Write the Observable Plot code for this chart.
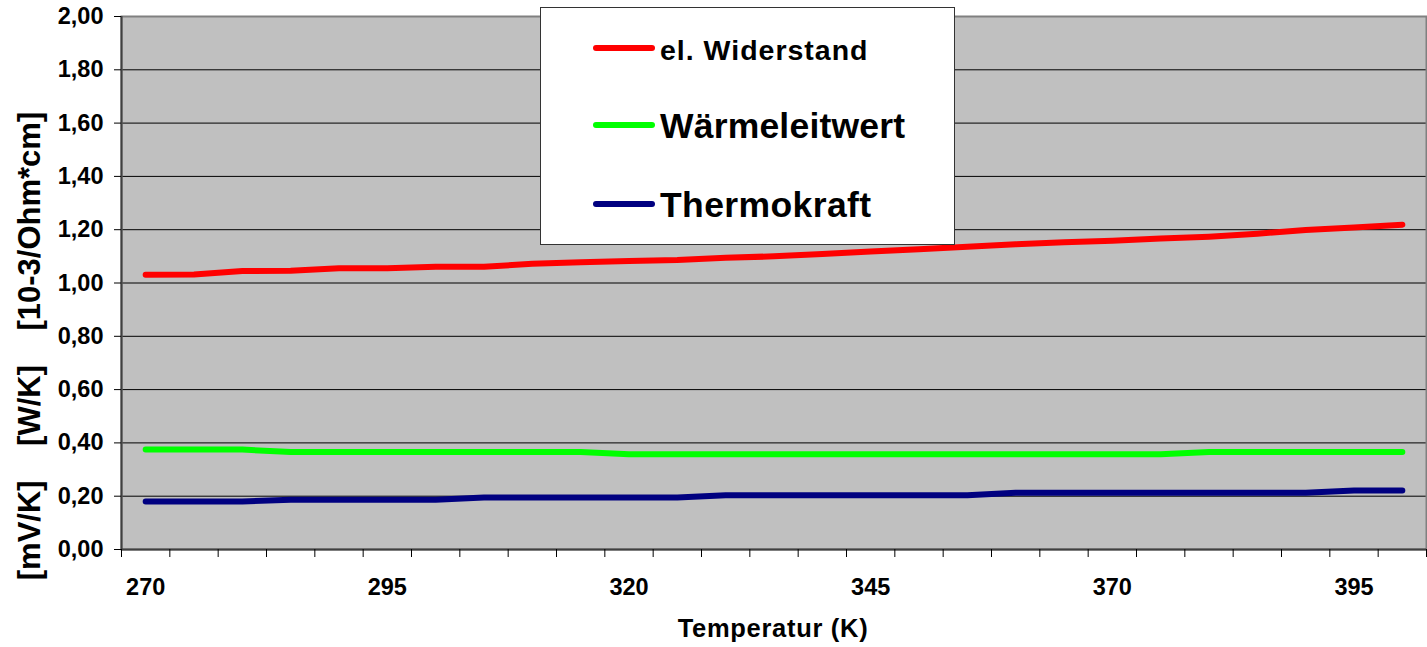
<!DOCTYPE html>
<html>
<head>
<meta charset="utf-8">
<script src="https://cdn.jsdelivr.net/npm/d3@7"></script>
<script src="https://cdn.jsdelivr.net/npm/@observablehq/plot@0.6"></script>
<style>
  html, body { margin: 0; padding: 0; background: #fff; }
  #chart { width: 1427px; height: 647px; }
</style>
</head>
<body>
<div id="chart"></div>
<script>
// ---- data ----
const temperatures = [270, 275, 280, 285, 290, 295, 300, 305, 310, 315, 320, 325, 330, 335,
  340, 345, 350, 355, 360, 365, 370, 375, 380, 385, 390, 395, 400];
const widerstand = [1.031, 1.032, 1.045, 1.046, 1.055, 1.055, 1.061, 1.061, 1.072, 1.078, 1.083,
  1.086, 1.095, 1.100, 1.109, 1.118, 1.127, 1.136, 1.145, 1.153, 1.159, 1.167, 1.174, 1.185,
  1.199, 1.208, 1.219];
const waermeleitwert = [0.375, 0.375, 0.375, 0.366, 0.366, 0.366, 0.366, 0.366, 0.366, 0.366,
  0.357, 0.357, 0.357, 0.357, 0.357, 0.357, 0.357, 0.357, 0.357, 0.357, 0.357, 0.357,
  0.366, 0.366, 0.366, 0.366, 0.366];
const thermokraft = [0.180, 0.180, 0.180, 0.187, 0.187, 0.187, 0.187, 0.195, 0.195, 0.195, 0.195,
  0.195, 0.204, 0.204, 0.204, 0.204, 0.204, 0.204, 0.213, 0.213, 0.213, 0.213, 0.213, 0.213,
  0.213, 0.221, 0.221];
const seriesNames = ["el. Widerstand", "Wärmeleitwert", "Thermokraft"];
const seriesColors = ["#FF0000", "#00FF00", "#000080"];
const xTickLabels = [270, 295, 320, 345, 370, 395];
const categoryBoundaries = [267.5, 272.5, 277.5, 282.5, 287.5, 292.5, 297.5, 302.5, 307.5, 312.5,
  317.5, 322.5, 327.5, 332.5, 337.5, 342.5, 347.5, 352.5, 357.5, 362.5, 367.5, 372.5, 377.5,
  382.5, 387.5, 392.5, 397.5, 402.5];
const yTicks = [0, 0.2, 0.4, 0.6, 0.8, 1.0, 1.2, 1.4, 1.6, 1.8, 2.0];
const yAxisTitle = "[mV/K]\u00A0\u00A0\u00A0\u00A0[W/K]\u00A0\u00A0\u00A0\u00A0[10-3/Ohm*cm]";
const xAxisTitle = "Temperatur (K)";

// ---- table for the library ----
const valueLists = [widerstand, waermeleitwert, thermokraft];
const rows = [];
seriesNames.forEach((name, s) => {
  temperatures.forEach((t, i) => rows.push({series: name, temp: t, value: valueLists[s][i]}));
});

const fmt = d => d.toFixed(2).replace(".", ",");

const plot = Plot.plot({
  width: 1427,
  height: 647,
  marginLeft: 121,
  marginRight: 1,
  marginTop: 16,
  marginBottom: 98,
  style: {fontFamily: "'Liberation Sans', Arial, sans-serif", fontWeight: "bold", fontSize: "23px", color: "#000", background: "#fff"},
  x: {type: "linear", domain: [267.5, 402.5]},
  y: {domain: [0, 2]},
  color: {domain: seriesNames, range: seriesColors},
  marks: [
    Plot.frame({fill: "#C0C0C0", stroke: "none"}),
    Plot.gridY(yTicks, {stroke: "#000", strokeOpacity: 1, strokeWidth: 1}),
    Plot.line(rows, {x: "temp", y: "value", z: "series", stroke: "series", strokeWidth: 6,
      strokeLinecap: "round", strokeLinejoin: "round"}),
    Plot.frame({stroke: "#808080", strokeWidth: 2}),
    Plot.ruleX([267.5], {stroke: "#404040", strokeWidth: 2}),
    Plot.ruleY([0], {stroke: "#404040", strokeWidth: 2}),
    Plot.axisY(yTicks, {tickSize: 7, tickPadding: 11, tickFormat: fmt, label: null, stroke: "#000", fontSize: 23.5}),
    Plot.axisX(categoryBoundaries, {tickSize: 8, tickFormat: () => "", label: null, stroke: "#000"}),
    Plot.axisX(xTickLabels, {tickSize: 0, tickPadding: 29, tickFormat: d => String(d), label: null, fontSize: 23.5})
  ]
});

document.getElementById("chart").appendChild(plot);

// ---- titles and legend ----
const svg = d3.select(plot);
const color = plot.scale("color");

svg.append("text")
  .attr("transform", "translate(29,346) rotate(-90)")
  .attr("text-anchor", "middle")
  .attr("dy", "0.35em")
  .style("font-size", "31px")
  .style("font-weight", "bold")
  .text(yAxisTitle);

svg.append("text")
  .attr("x", 773)
  .attr("y", 637)
  .attr("text-anchor", "middle")
  .style("font-size", "25.5px")
  .style("letter-spacing", "0.7px")
  .style("font-weight", "bold")
  .text(xAxisTitle);

const legend = svg.append("g");
legend.append("rect")
  .attr("x", 540.5).attr("y", 7.5).attr("width", 414).attr("height", 237)
  .attr("fill", "#fff").attr("stroke", "#333").attr("stroke-width", 1);
const legendRows = [
  {y: 48, base: 60, size: 28.5, spacing: 1},
  {y: 125, base: 138, size: 35.5, spacing: 0.2},
  {y: 204, base: 217, size: 35.5, spacing: 0.4}
];
seriesNames.forEach((name, i) => {
  const r = legendRows[i];
  legend.append("line")
    .attr("x1", 596).attr("x2", 652).attr("y1", r.y).attr("y2", r.y)
    .attr("stroke", color.apply(name)).attr("stroke-width", 6).attr("stroke-linecap", "round");
  legend.append("text")
    .attr("x", 660).attr("y", r.base)
    .attr("text-anchor", "start")
    .style("font-size", r.size + "px")
    .style("letter-spacing", r.spacing + "px")
    .style("font-weight", "bold")
    .text(name);
});
</script>
</body>
</html>
